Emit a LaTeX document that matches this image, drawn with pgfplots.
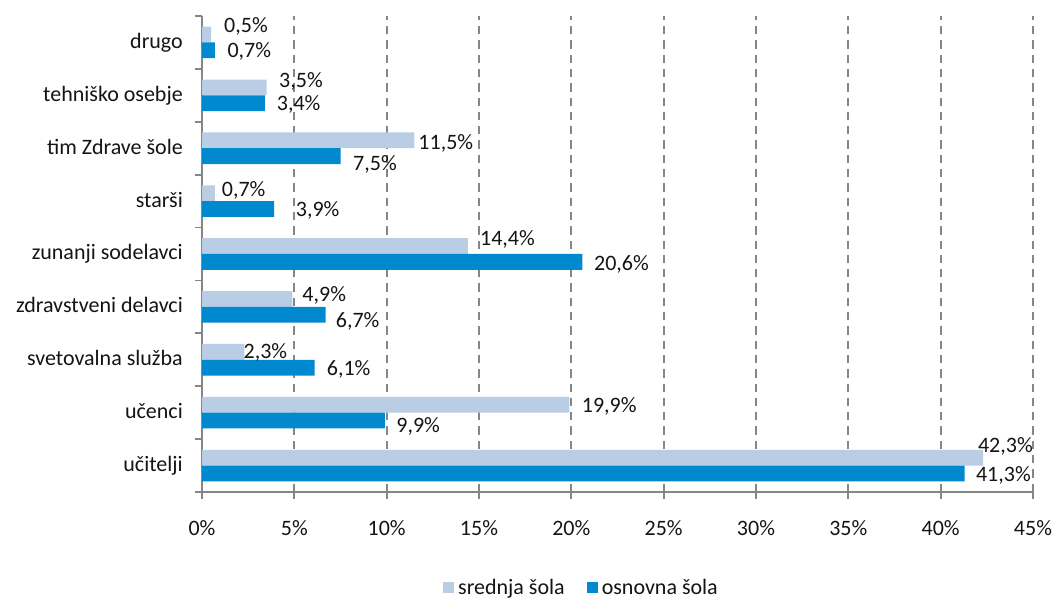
\documentclass[border=0pt]{standalone}
\usepackage{pgfplots}
\pgfplotsset{compat=1.18}
\usepackage{pgfplotstable}
\usepackage{fontspec}
\setmainfont{Carlito}
\definecolor{lightbar}{RGB}{185,205,229}
\definecolor{darkbar}{RGB}{0,137,207}
\definecolor{axgray}{RGB}{134,134,134}
\definecolor{txt}{RGB}{20,20,20}
\newcommand\cf{\fontsize{22bp}{26bp}\selectfont}

% y: 0 = učitelji ... 8 = drugo ; dx, dy: label offsets (bp)
\pgfplotstableread{
y val dx dy
0 42.3 -5.3 13.44
1 19.9 12.2 0.44
2 2.3 -1 0.94
3 4.9 9.8 5.54
4 14.4 12 8.24
5 0.7 6.8 4.94
6 11.5 3.9 -0.96
7 3.5 12.4 7.74
8 0.5 12.8 9.5
}\srednja

\pgfplotstableread{
y val dx dy
0 41.3 11.2 -15.46
1 9.9 11.4 -19.66
2 6.1 12 -16.06
3 6.7 10 -20.36
4 20.6 11.5 -16.16
5 3.9 21.7 -15.86
6 7.5 12.5 -21.86
7 3.4 11.9 -15.36
8 0.7 12.4 -15.16
}\osnovna

\begin{document}
\begin{tikzpicture}
\path[use as bounding box] (0,0) rectangle (1053bp,599bp);
\begin{axis}[
  at={(202bp,107bp)}, anchor=south west,
  scale only axis, width=831bp, height=476bp,
  xmin=0, xmax=45, ymin=-0.5, ymax=8.5,
  axis x line*=bottom, axis y line*=left,
  axis line style={-, draw=axgray, line width=1.8bp},
  xtick={0,5,...,45},
  xticklabels={0\%,5\%,10\%,15\%,20\%,25\%,30\%,35\%,40\%,45\%},
  xmajorgrids,
  grid style={axgray, line width=1.8bp, dash pattern=on 8.3bp off 6bp},
  ytick={0,...,8},
  yticklabels={u\v{c}itelji,u\v{c}enci,svetovalna slu\v{z}ba,zdravstveni delavci,zunanji sodelavci,star\v{s}i~,tim Zdrave \v{s}ole,tehni\v{s}ko osebje,drugo~},
  minor ytick={-0.5,0.5,...,8.5},
  tick align=outside, major tick length=7bp, minor tick length=7bp,
  tick style={axgray, line width=1.8bp},
  major y tick style={draw=none},
  xticklabel style={font=\cf, text=txt, yshift=-18bp},
  yticklabel style={font=\cf, text=txt, anchor=base east, inner sep=0pt, xshift=-12bp, yshift=-6bp},
  legend style={at={(0.4567,-0.201)}, anchor=center, draw=none, fill=none, font=\cf, text=txt,
    /tikz/every even column/.append style={column sep=20bp}},
  legend columns=2,
  legend cell align=left,
]
\addplot[xbar, bar width=15.8bp, bar shift=7.9bp, fill=lightbar, draw=none,
  legend image code/.code={\fill[lightbar] (0bp,-5.5bp) rectangle (11bp,5.5bp); \path (13bp,0bp);},
  point meta=x,
  visualization depends on={\thisrow{dx} \as \dx},
  visualization depends on={\thisrow{dy} \as \dy},
  nodes near coords={\pgfmathprintnumber[fixed,fixed zerofill,precision=1,use comma,assume math mode=true]{\pgfplotspointmeta}\%},
  every node near coord/.append style={anchor=base west, inner sep=0pt, xshift=\dx bp, yshift=\dy bp, font=\cf, text=txt},
] table[x=val,y=y]{\srednja};
\addlegendentry{srednja šola}
\addplot[xbar, bar width=15.8bp, bar shift=-7.9bp, fill=darkbar, draw=none,
  legend image code/.code={\fill[darkbar] (0bp,-5.5bp) rectangle (11bp,5.5bp); \path (13bp,0bp);},
  point meta=x,
  visualization depends on={\thisrow{dx} \as \dx},
  visualization depends on={\thisrow{dy} \as \dy},
  nodes near coords={\pgfmathprintnumber[fixed,fixed zerofill,precision=1,use comma,assume math mode=true]{\pgfplotspointmeta}\%},
  every node near coord/.append style={anchor=base west, inner sep=0pt, xshift=\dx bp, yshift=\dy bp, font=\cf, text=txt},
] table[x=val,y=y]{\osnovna};
\addlegendentry{osnovna šola}
\end{axis}
\end{tikzpicture}
\end{document}
